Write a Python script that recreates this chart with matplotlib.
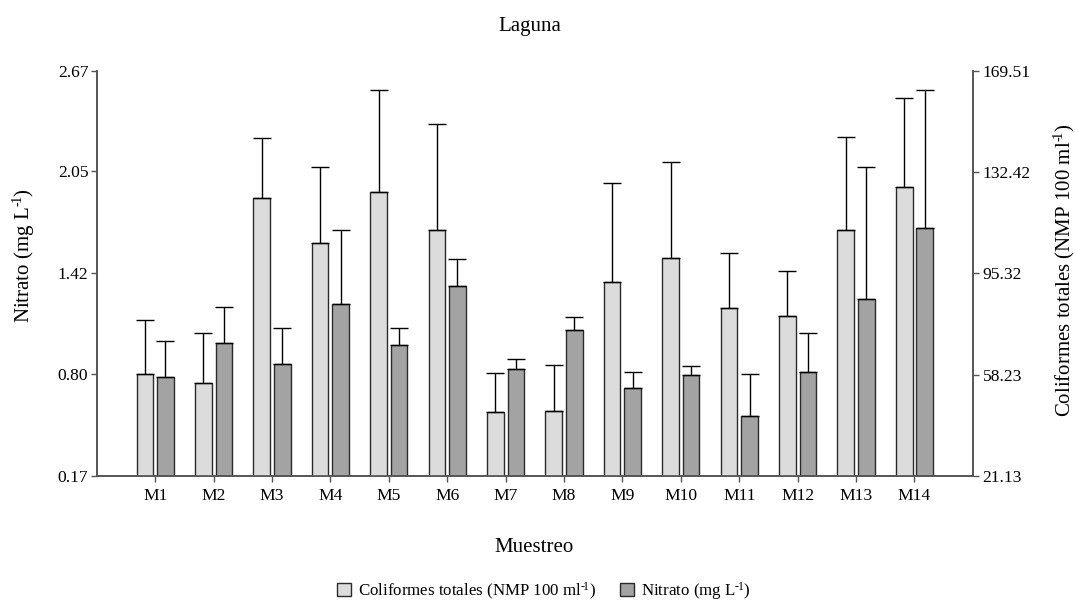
import matplotlib
matplotlib.use("Agg")
import matplotlib.pyplot as plt
import numpy as np

plt.rcParams["font.family"] = ["Liberation Serif", "DejaVu Serif"]
plt.rcParams["mathtext.fontset"] = "custom"
plt.rcParams["mathtext.rm"] = "Liberation Serif"
plt.rcParams["mathtext.it"] = "Liberation Serif"

# superscript "-1" drawn with a real hyphen, as in the reference
SUP = "$^{\\mathrm{\u2010}\\!\\mathrm{1}}$"

# data
muestreos = ["M%d" % i for i in range(1, 15)]
coliformes = [58.3, 55.2, 122.8, 106.3, 125.2, 111.4, 44.4, 44.7, 92.0, 100.9, 82.5, 79.6, 111.1, 127.0]
coliformes_sd = [19.9, 18.4, 22.0, 28.1, 37.3, 38.7, 14.5, 16.9, 36.5, 35.2, 20.2, 16.7, 34.2, 32.5]
nitrato = [0.78, 0.99, 0.86, 1.23, 0.98, 1.34, 0.83, 1.07, 0.71, 0.79, 0.54, 0.81, 1.26, 1.70]
nitrato_sd = [0.22, 0.22, 0.22, 0.46, 0.10, 0.17, 0.06, 0.08, 0.10, 0.06, 0.26, 0.24, 0.82, 0.85]
left_ticks = [0.17, 0.80, 1.42, 2.05, 2.67]
right_ticks = [21.13, 58.23, 95.32, 132.42, 169.51]

fig = plt.figure(figsize=(10.75, 6.08), dpi=100)
ax = fig.add_axes([0.09, 0.2176, 0.815, 0.6656])
ax2 = ax.twinx()

x = np.arange(len(muestreos))
w = 0.285
off = 0.176
light = "#dcdcdc"
dark = "#a3a3a3"
edge = "#2a2a2a"
err_kw = dict(ecolor="black", elinewidth=1.0, capsize=6.5, capthick=1.0)

n = len(muestreos)
ax2.bar(x - off, coliformes, w, color=light, edgecolor=edge, linewidth=1.0,
        yerr=[np.zeros(n), coliformes_sd], error_kw=err_kw,
        label="Coliformes totales (NMP 100 ml" + SUP + ")")
ax.bar(x + off, nitrato, w, color=dark, edgecolor=edge, linewidth=1.0,
       yerr=[np.zeros(n), nitrato_sd], error_kw=err_kw,
       label="Nitrato (mg L" + SUP + ")")

ax.set_xlim(-1, 14)
ax.set_ylim(left_ticks[0], left_ticks[-1])
ax2.set_ylim(right_ticks[0], right_ticks[-1])
ax.set_yticks(left_ticks)
ax.set_yticklabels(["%.2f" % v for v in left_ticks])
ax2.set_yticks(right_ticks)
ax2.set_yticklabels(["%.2f" % v for v in right_ticks])
ax.set_xticks(x)
ax.set_xticklabels(muestreos)

for a in (ax, ax2):
    a.spines["top"].set_visible(False)
    for s in ("left", "right", "bottom"):
        a.spines[s].set_color("#555555")
        a.spines[s].set_linewidth(1.2)
    a.tick_params(axis="both", labelsize=12.6, direction="out", length=4,
                  color="#555555", width=1.0)
ax.tick_params(axis="y", pad=2)
ax2.tick_params(axis="y", pad=3)
ax.tick_params(axis="x", pad=5)

fig.text(0.4926, 0.957, "Laguna", ha="center", va="center", fontsize=15)
fig.text(0.497, 0.1, "Muestreo", ha="center", va="center", fontsize=15)
fig.text(0.0223, 0.579, "Nitrato (mg L" + SUP + ")", rotation=90,
         ha="center", va="center", fontsize=15)
fig.text(0.99, 0.555, "Coliformes totales (NMP 100 ml" + SUP + ")", rotation=90,
         ha="center", va="center", fontsize=15)

h1, l1 = ax2.get_legend_handles_labels()
h2, l2 = ax.get_legend_handles_labels()
fig.legend(h1 + h2, l1 + l2, loc="center", bbox_to_anchor=(0.506, 0.028), ncol=2,
           frameon=False, fontsize=12.2, handlelength=0.8, handleheight=0.8,
           handletextpad=0.45, columnspacing=1.4)

fig.savefig("out.png", dpi=100)
